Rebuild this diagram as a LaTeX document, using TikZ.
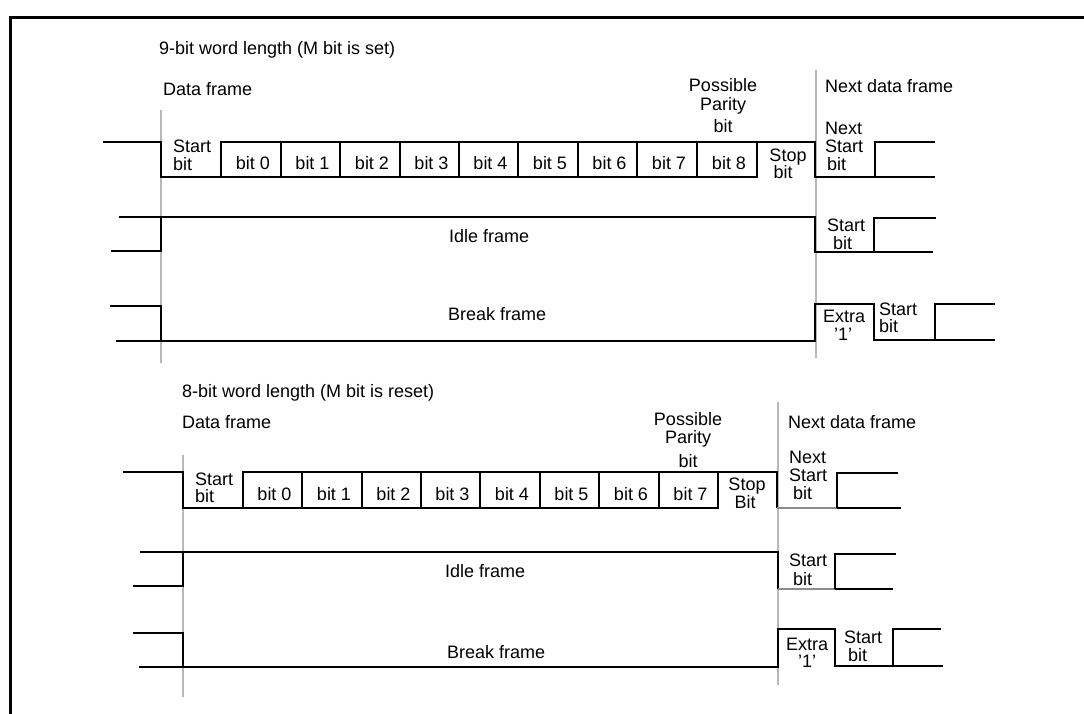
\documentclass[tikz,border=0pt]{standalone}
\usepackage{fontspec}
\setmainfont{Liberation Sans}
\begin{document}
\begin{tikzpicture}[x=1pt,y=-1pt,
  sig/.style={line width=2pt, line join=miter},
  thin/.style={line width=1.2pt, color=black!45},
  guide/.style={line width=1.5pt, color=black!28},
  frm/.style={line width=3pt},
  lbl/.style={font=\fontsize{18}{18}\selectfont, inner sep=0pt},
  lw/.style={lbl, anchor=base west},
  lc/.style={lbl, anchor=base}]
\useasboundingbox (0,0) rectangle (1084,714);
% frame
\draw[frm] (10,715) -- (10,18) -- (1085,18);
% ================= 9-bit =================
\draw[guide] (161,110) -- (161,363);
\draw[guide] (816,70) -- (816,358);
% data frame
\draw[sig] (103,142) -- (161,142) -- (161,177) -- (757,177) -- (757,142) -- (815,142) -- (815,177) -- (935,177);
\draw[sig] (221,177) -- (221,142) -- (757,142);
\foreach \x in {281,340,400,459,518,578,637,697} \draw[sig] (\x,142) -- (\x,177);
\draw[sig] (875,177) -- (875,142) -- (935,142);
% idle frame
\draw[sig] (111,251) -- (161,251) -- (161,217);
\draw[sig] (119,217) -- (815,217) -- (815,252) -- (933,252);
\draw[sig] (874,252) -- (874,218) -- (936,218);
% break frame
\draw[sig] (110,306) -- (161,306) -- (161,341);
\draw[sig] (116,341) -- (815,341) -- (815,304) -- (874,304) -- (874,340) -- (995,340);
\draw[sig] (935,340) -- (935,304) -- (995,304);
% texts
\node[lw] (t9) at (159,55) {9-bit word length (M bit is set)};
\node[lw] (df1) at (163,96) {Data frame};
\node[lw] (ndf1) at (825,93) {Next data frame};
\node[lc] (pa1) at (723,92) {Possible};
\node[lc] (pb1) at (723,111) {Parity};
\node[lc] (pc1) at (723,133) {bit};
\node[lw] (sa1) at (173,153) {Start};
\node[lw] (sb1) at (173,171) {bit};
\foreach \a/\b [count=\i from 0] in {221/281,281/340,340/400,400/459,459/518,518/578,578/637,637/697,697/757}
  \node[lc] (b1\i) at ({(\a+\b)/2+2},170) {bit \i};
\node[lc] (spa1) at (788,162) {Stop};
\node[lc] (spb1) at (783,179) {bit};
\node[lw] (nxa1) at (825,135) {Next};
\node[lw] (nxb1) at (825,153) {Start};
\node[lw] (nxc1) at (827,171) {bit};
\node[lw] (idl1) at (449,242) {Idle frame};
\node[lw] (isa1) at (827,232) {Start};
\node[lw] (isb1) at (833,249) {bit};
\node[lw] (brk1) at (448,320) {Break frame};
\node[lw] (exa1) at (823,322) {Extra};
\node[lc] (exb1) at (843,340) {’1’};
\node[lw] (bsa1) at (879,315) {Start};
\node[lw] (bsb1) at (879,332) {bit};
% ================= 8-bit =================
\draw[guide] (183,455) -- (183,697);
\draw[guide] (778,402) -- (778,685);
% data frame
\draw[sig] (123,472) -- (183,472) -- (183,508) -- (718,508) -- (718,472) -- (777,472) -- (777,508);
\draw[thin] (777,508) -- (837,508);
\draw[sig] (837,508) -- (901,508);
\draw[sig] (243,508) -- (243,472) -- (718,472);
\foreach \x in {302,362,421,480,540,599,659} \draw[sig] (\x,472) -- (\x,508);
\draw[sig] (837,508) -- (837,473) -- (898,473);
% idle frame
\draw[sig] (133,586) -- (183,586) -- (183,552);
\draw[sig] (140,552) -- (778,552) -- (778,589);
\draw[thin] (778,589) -- (835,589);
\draw[sig] (835,589) -- (893,589);
\draw[sig] (835,589) -- (835,554) -- (896,554);
% break frame
\draw[sig] (133,633) -- (183,633) -- (183,667);
\draw[sig] (139,667) -- (778,667) -- (778,629) -- (835,629) -- (835,666) -- (943,666);
\draw[sig] (893,666) -- (893,629) -- (941,629);
% texts
\node[lw] (t8) at (182,397) {8-bit word length (M bit is reset)};
\node[lw] (df2) at (182,428) {Data frame};
\node[lw] (ndf2) at (788,428) {Next data frame};
\node[lc] (pa2) at (688,425) {Possible};
\node[lc] (pb2) at (688,443) {Parity};
\node[lc] (pc2) at (688,467) {bit};
\node[lw] (sa2) at (195,485) {Start};
\node[lw] (sb2) at (195,502) {bit};
\foreach \a/\b [count=\i from 0] in {243/302,302/362,362/421,421/480,480/540,540/599,599/659,659/718}
  \node[lc] (b2\i) at ({(\a+\b)/2+2},500) {bit \i};
\node[lc] (spa2) at (747,490) {Stop};
\node[lc] (spb2) at (745,508) {Bit};
\node[lw] (nxa2) at (789,463) {Next};
\node[lw] (nxb2) at (789,481) {Start};
\node[lw] (nxc2) at (793,499) {bit};
\node[lw] (idl2) at (445,577) {Idle frame};
\node[lw] (isa2) at (789,566) {Start};
\node[lw] (isb2) at (793,585) {bit};
\node[lw] (brk2) at (447,658) {Break frame};
\node[lw] (exa2) at (786,650) {Extra};
\node[lc] (exb2) at (807,667) {’1’};
\node[lw] (bsa2) at (844,643) {Start};
\node[lw] (bsb2) at (848,661) {bit};
\end{tikzpicture}
\end{document}
